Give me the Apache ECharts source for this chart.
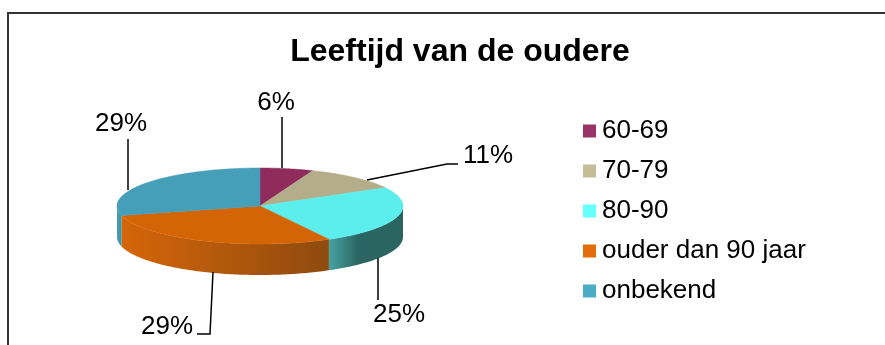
<!DOCTYPE html>
<html>
<head>
<meta charset="utf-8">
<title>Leeftijd van de oudere</title>
<script src="https://cdn.jsdelivr.net/npm/echarts@6/dist/echarts.min.js"></script>
<style>
  html, body { margin: 0; padding: 0; background: #ffffff; }
  #chart { width: 885px; height: 345px; }
</style>
</head>
<body>
<div id="chart"></div>
<script>
// Age groups and their shares (percent)
const categories = ['60-69', '70-79', '80-90', 'ouder dan 90 jaar', 'onbekend'];
const percentages = [6, 11, 25, 29, 29];

// Colours: legend swatch, top face, side wall gradient (light -> dark)
const legendColors = ['#993366', '#c4bd97', '#66ffff', '#e46c0a', '#4bacc6'];
const topColors = ['#8f2c5c', '#b3ad8a', '#5ceeec', '#d46507', '#459fb9'];
const sideColors = [
  ['#7a2450', '#5e1b3e'],
  ['#9c9676', '#7d785e'],
  ['#47a3a0', '#2a6562'],
  ['#d56609', '#8e4a0f'],
  ['#4aa0b5', '#3a92a7']
];

// Geometry of the tilted pie
const pie = { cx: 260, cy: 206, rx: 143, ry: 38, depth: 31, startAngle: 90 };

// Label text centres and leader lines, one per slice
const labelPos = [[276, 103], [488, 156], [399, 315], [167, 327], [121, 124]];
const leaderLines = [
  [[282, 117], [282, 168]],
  [[458, 164], [447, 164], [367, 180]],
  [[378, 300], [378, 258]],
  [[197, 334], [210, 334], [213, 272]],
  [[128, 139], [128, 190]]
];

const FONT = "'Liberation Sans', Arial, Helvetica, sans-serif";

// Slice angle ranges (degrees, counter-clockwise positive), drawn clockwise from the top
const total = percentages.reduce((a, b) => a + b, 0);
const ranges = [];
let acc = pie.startAngle;
percentages.forEach(v => {
  const sweep = v / total * 360;
  ranges.push([acc - sweep, acc]);   // [low, high]
  acc -= sweep;
});

function rim(deg, dy) {
  const r = deg * Math.PI / 180;
  return [pie.cx + pie.rx * Math.cos(r), pie.cy - pie.ry * Math.sin(r) + (dy || 0)];
}
function arc(from, to, dy) {
  const pts = [];
  const n = Math.max(2, Math.ceil(Math.abs(to - from)));
  for (let k = 0; k <= n; k++) pts.push(rim(from + (to - from) * k / n, dy));
  return pts;
}

function makeRenderItem(i) {
  return function (params, api) {
    const [lo, hi] = ranges[i];
    const children = [];

    // Visible front wall: part of the slice inside the front half [-180, 0]
    const wLo = Math.max(lo, -180), wHi = Math.min(hi, 0);
    if (wHi > wLo) {
      const top = arc(wHi, wLo, 0);
      const bottom = arc(wLo, wHi, pie.depth);
      const xs = top.map(p => p[0]);
      const x0 = Math.min.apply(null, xs), x1 = Math.max.apply(null, xs);
      const stops = i === 2
        ? [{ offset: 0, color: sideColors[i][0] }, { offset: 0.4, color: sideColors[i][1] }, { offset: 1, color: sideColors[i][1] }]
        : [{ offset: 0, color: sideColors[i][0] }, { offset: 1, color: sideColors[i][1] }];
      children.push({
        type: 'polygon',
        shape: { points: top.concat(bottom) },
        style: {
          fill: { type: 'linear', x: x0, y: 0, x2: x1, y2: 0, global: true, colorStops: stops },
          stroke: null
        }
      });
    }

    // Top face
    children.push({
      type: 'polygon',
      shape: { points: [[pie.cx, pie.cy]].concat(arc(hi, lo, 0)) },
      style: { fill: topColors[i], stroke: topColors[i], lineWidth: 0.5 }
    });

    // Leader line and percentage label
    children.push({
      type: 'polyline',
      shape: { points: leaderLines[i] },
      style: { stroke: '#000000', lineWidth: 1.5, fill: null }
    });
    children.push({
      type: 'text',
      x: labelPos[i][0],
      y: labelPos[i][1],
      style: {
        text: Math.round(api.value(0)) + '%',
        font: '26px ' + FONT,
        fill: '#000000',
        textAlign: 'center',
        textVerticalAlign: 'middle'
      }
    });

    return { type: 'group', children: children };
  };
}

const chart = echarts.init(document.getElementById('chart'), null, { renderer: 'canvas' });

const series = categories.map((name, i) => ({
  type: 'custom',
  name: name,
  coordinateSystem: 'none',
  itemStyle: { color: legendColors[i] },
  data: [[percentages[i]]],
  renderItem: makeRenderItem(i),
  silent: true
}));

chart.setOption({
  animation: false,
  backgroundColor: '#ffffff',
  graphic: [
    {
      type: 'rect',
      shape: { x: 8, y: 13, width: 900, height: 400 },
      style: { fill: null, stroke: '#333333', lineWidth: 2 },
      z: -10
    },
    {
      type: 'text',
      x: 460,
      y: 52,
      style: {
        text: 'Leeftijd van de oudere',
        font: 'bold 32px ' + FONT,
        fill: '#000000',
        textAlign: 'center',
        textVerticalAlign: 'middle'
      }
    }
  ],
  legend: {
    orient: 'vertical',
    left: 583,
    top: 117,
    padding: 0,
    icon: 'rect',
    itemWidth: 13,
    itemHeight: 13,
    itemGap: 12,
    selectedMode: false,
    data: categories,
    textStyle: {
      fontFamily: FONT,
      fontSize: 26,
      lineHeight: 28,
      color: '#000000',
      padding: [0, 0, 0, 1]
    }
  },
  series: series
});
</script>
</body>
</html>
